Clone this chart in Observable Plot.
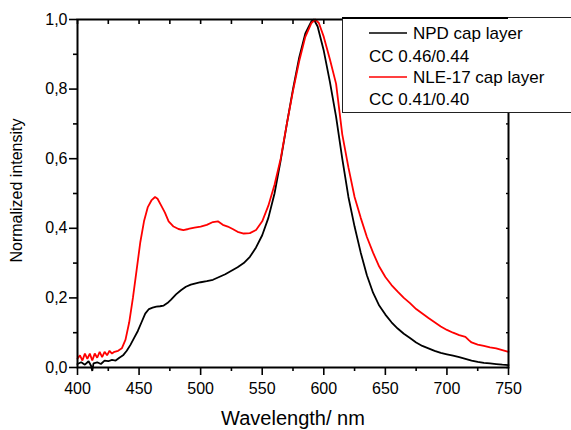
<!DOCTYPE html>
<html>
<head>
<meta charset="utf-8">
<script src="https://cdn.jsdelivr.net/npm/d3@7"></script>
<script src="https://cdn.jsdelivr.net/npm/@observablehq/plot@0.6"></script>
<style>
  html, body { margin: 0; padding: 0; background: #fff; overflow: hidden; }
  #wrap { position: relative; width: 571px; height: 430px; }
  #legend { position: absolute; left: 0; top: 0; }
</style>
</head>
<body>
<div id="wrap"></div>
<script>
// Series names and legend notes
const seriesNames = ["NPD cap layer", "NLE-17 cap layer"];
const seriesNotes = ["CC 0.46/0.44", "CC 0.41/0.40"];
const seriesColors = ["#000000", "#ff0000"];

// NPD cap layer (black)
const npdWavelength = [400,403,406,409,411,412,413,416,419,422,425,428,431,434,437,440,443,446,449,452,455,458,461,464,467,470,473,476,480,484,488,492,496,500,505,510,515,520,525,530,535,540,545,550,555,560,565,570,575,580,585,590,592,595,600,605,610,615,620,625,630,635,640,645,650,655,660,665,670,675,680,685,690,695,700,705,710,715,720,725,730,735,740,745,750];
const npdIntensity = [0.010,0.015,0.008,0.018,0.005,-0.010,0.012,0.015,0.010,0.020,0.018,0.022,0.020,0.028,0.035,0.048,0.065,0.085,0.105,0.130,0.155,0.168,0.172,0.175,0.176,0.178,0.185,0.195,0.210,0.222,0.232,0.238,0.242,0.245,0.248,0.252,0.260,0.268,0.278,0.288,0.300,0.318,0.345,0.380,0.430,0.500,0.595,0.700,0.800,0.890,0.960,0.995,1.000,0.980,0.910,0.820,0.720,0.600,0.490,0.405,0.330,0.265,0.215,0.178,0.152,0.130,0.112,0.097,0.085,0.072,0.062,0.055,0.048,0.042,0.038,0.034,0.030,0.025,0.020,0.016,0.013,0.012,0.010,0.008,0.007];

// NLE-17 cap layer (red)
const nleWavelength = [400,402,404,406,408,410,412,414,416,418,420,422,424,426,428,430,433,436,439,442,445,448,451,454,457,460,463,465,468,471,474,478,482,486,490,495,500,505,510,514,518,522,526,530,535,540,545,550,555,560,565,570,575,580,585,590,593,596,600,605,610,615,620,625,630,635,640,645,650,655,660,665,670,675,680,685,690,695,700,705,710,715,718,720,725,730,735,740,745,750];
const nleIntensity = [0.025,0.035,0.020,0.040,0.025,0.040,0.020,0.040,0.028,0.045,0.030,0.045,0.035,0.048,0.040,0.045,0.048,0.055,0.080,0.130,0.200,0.280,0.360,0.420,0.460,0.480,0.490,0.485,0.465,0.445,0.420,0.405,0.398,0.395,0.398,0.402,0.405,0.410,0.418,0.420,0.410,0.405,0.398,0.390,0.385,0.386,0.395,0.420,0.465,0.525,0.600,0.700,0.795,0.880,0.950,0.990,1.000,0.990,0.950,0.885,0.815,0.670,0.575,0.490,0.430,0.375,0.330,0.290,0.260,0.237,0.218,0.200,0.185,0.168,0.155,0.142,0.130,0.118,0.108,0.100,0.093,0.088,0.078,0.072,0.066,0.062,0.058,0.055,0.050,0.045];

// Axis ticks
const xMajorTicks = [400,450,500,550,600,650,700,750];
const xMinorTicks = [425,475,525,575,625,675,725];
const xAllTicks = [400,425,450,475,500,525,550,575,600,625,650,675,700,725,750];
const yMajorTicks = [0,0.2,0.4,0.6,0.8,1.0];
const yMinorTicks = [0.1,0.3,0.5,0.7,0.9];
const yAllTicks = [0,0.1,0.2,0.3,0.4,0.5,0.6,0.7,0.8,0.9,1.0];
const xLabel = "Wavelength/ nm";
const yLabel = "Normalized intensity";

const rows = [];
npdWavelength.forEach((w, i) => rows.push({w, v: npdIntensity[i], s: seriesNames[0]}));
nleWavelength.forEach((w, i) => rows.push({w, v: nleIntensity[i], s: seriesNames[1]}));

const font = "'Liberation Sans', Arial, sans-serif";
const commaFmt = d => d.toFixed(1).replace(".", ",");

const chart = Plot.plot({
  width: 571,
  height: 430,
  marginLeft: 77,
  marginRight: 63,
  marginTop: 19,
  marginBottom: 63,
  style: {fontFamily: font, background: "#fff", color: "#000"},
  x: {domain: [400, 750]},
  y: {domain: [0, 1]},
  color: {domain: seriesNames, range: seriesColors},
  marks: [
    Plot.line(rows, {x: "w", y: "v", z: "s", stroke: "s", strokeWidth: 1.8, strokeLinejoin: "miter"}),
    Plot.frame({stroke: "#000", strokeWidth: 2}),
    Plot.axisX(xMajorTicks, {anchor: "bottom", tickSize: 8, tickPadding: 7, fontSize: 16, strokeWidth: 1.6, label: null}),
    Plot.axisX(xMinorTicks, {anchor: "bottom", tickSize: 4, tickFormat: () => "", strokeWidth: 1.6, label: null}),
    Plot.axisX(xAllTicks, {anchor: "top", tickSize: -4, tickFormat: () => "", strokeWidth: 1.6, label: null}),
    Plot.axisY(yMajorTicks, {anchor: "left", tickSize: 8, tickPadding: 2, fontSize: 16, tickFormat: commaFmt, strokeWidth: 1.6, label: null}),
    Plot.axisY(yMinorTicks, {anchor: "left", tickSize: 4, tickFormat: () => "", strokeWidth: 1.6, label: null}),
    Plot.axisY(yAllTicks, {anchor: "right", tickSize: -3, tickFormat: () => "", strokeWidth: 1.4, label: null}),
    Plot.text([xLabel], {frameAnchor: "bottom", text: d => d, dy: 51, lineAnchor: "middle", textAnchor: "middle", fontSize: 20, fill: "#000"}),
    Plot.text([yLabel], {frameAnchor: "left", text: d => d, dx: -61, dy: -3, rotate: -90, lineAnchor: "middle", textAnchor: "middle", fontSize: 16, fill: "#000"})
  ]
});

const wrap = document.getElementById("wrap");
wrap.appendChild(chart);

// Legend overlay (inside the plot area, top right)
const ns = "http://www.w3.org/2000/svg";
const lg = document.createElementNS(ns, "svg");
lg.setAttribute("id", "legend");
lg.setAttribute("width", 571);
lg.setAttribute("height", 430);
lg.style.position = "absolute";
lg.style.left = "0px";
lg.style.top = "0px";
lg.style.pointerEvents = "none";
function el(tag, attrs, text) {
  const e = document.createElementNS(ns, tag);
  for (const k in attrs) e.setAttribute(k, attrs[k]);
  if (text != null) e.textContent = text;
  lg.appendChild(e);
  return e;
}
el("rect", {x: 342.5, y: 17.5, width: 240, height: 95, fill: "#fff", stroke: "#222", "stroke-width": 1});
el("line", {x1: 342, y1: 18, x2: 508, y2: 18, stroke: "#000", "stroke-width": 2});
const rowsY = [[33, 56], [77, 99]];
seriesNames.forEach((name, i) => {
  const [y1, y2] = rowsY[i];
  el("line", {x1: 369, x2: 407, y1: y1, y2: y1, stroke: seriesColors[i], "stroke-width": 1.6});
  el("text", {x: 413, y: y1, "dominant-baseline": "central", "font-size": 17, "font-family": font, fill: "#000"}, name);
  el("text", {x: 369, y: y2, "dominant-baseline": "central", "font-size": 17, "font-family": font, fill: "#000"}, seriesNotes[i]);
});
wrap.appendChild(lg);
</script>
</body>
</html>
